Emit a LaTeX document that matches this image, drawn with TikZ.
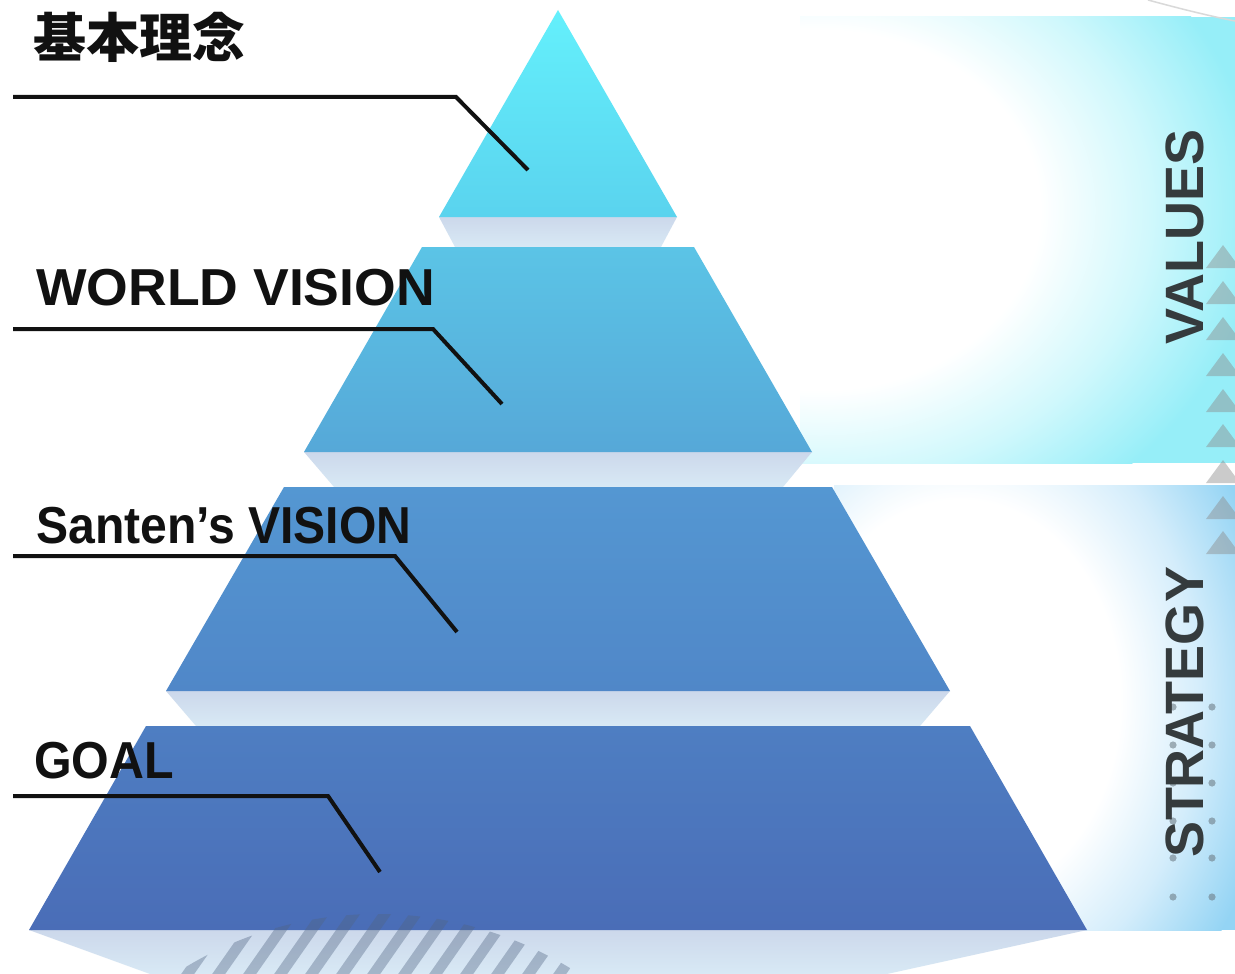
\documentclass[tikz,border=0pt]{standalone}
\usepackage{fontspec}
\setmainfont{Liberation Sans}
\newfontfamily\cjk{Noto Sans CJK JP}
\definecolor{ink}{HTML}{111111}
\definecolor{sidegray}{HTML}{353B3D}
\definecolor{valcyan}{HTML}{96EEF8}
\definecolor{valmid}{HTML}{D0F8FC}
\definecolor{strblue}{HTML}{94D4F4}
\definecolor{strmid}{HTML}{D4EDFB}
\definecolor{gaptop}{HTML}{CCD8EB}
\definecolor{gapbot}{HTML}{D8E9F5}
\definecolor{tAtop}{HTML}{64F0FC}
\definecolor{tAbot}{HTML}{5AD3EE}
\definecolor{tBtop}{HTML}{5BC4E6}
\definecolor{tBbot}{HTML}{56A8D8}
\definecolor{tCtop}{HTML}{5497D2}
\definecolor{tCbot}{HTML}{5087C8}
\definecolor{tDtop}{HTML}{4E7EC2}
\definecolor{tDbot}{HTML}{4A6DB7}
\definecolor{dotgray}{RGB}{110,125,135}
\definecolor{stripec}{RGB}{80,100,130}
% path bounding box maps to 25bp..75bp (radial: radius = 25bp)
\pgfdeclareradialshading{valsh}{\pgfpoint{0bp}{0bp}}{color(0bp)=(white); color(12.5bp)=(white); color(18.75bp)=(valmid); color(25bp)=(valcyan); color(50bp)=(valcyan)}
\pgfdeclareradialshading{strsh}{\pgfpoint{0bp}{0bp}}{color(0bp)=(white); color(12.5bp)=(white); color(18.75bp)=(strmid); color(25bp)=(strblue); color(50bp)=(strblue)}
\begin{document}
\begin{tikzpicture}[x=1pt,y=-1pt,
  leader/.style={draw=ink, line width=4pt},
  lbl/.style={anchor=base west, inner sep=0pt, text=ink, font=\fontsize{52}{60}\selectfont\bfseries},
  side/.style={rotate=90, inner sep=0pt, text=sidegray, font=\fontsize{54}{60}\selectfont\bfseries},
  tri/.style={fill=black!45, fill opacity=0.45},
  dotc/.style={fill=dotgray, fill opacity=0.6},
  gapfill/.style={top color=gaptop, bottom color=gapbot},
]
\useasboundingbox (0,0) rectangle (1235,974);
\fill[white] (0,0) rectangle (1235,974);
% right panels
\begin{scope}
  \clip (800,17) rectangle (1235,463);
  \fill[valcyan] (800,17) rectangle (1235,463);
  \shade[shading=valsh] (820,210) ellipse [x radius=440pt, y radius=360pt];
\end{scope}
\begin{scope}
  \clip (834,485) rectangle (1235,930);
  \fill[strblue] (834,485) rectangle (1235,930);
  \shade[shading=strsh] (960,700) ellipse [x radius=320pt, y radius=400pt];
\end{scope}
\draw[gray!30, line width=1.5pt] (1148,0) .. controls (1185,10) and (1210,16) .. (1235,21);
% shadow and gaps
\shade[gapfill] (29,930) -- (1087,930) -- (887,974) -- (150,974) -- cycle;
\shade[gapfill] (439,217) -- (677,217) -- (661,247) -- (455,247) -- cycle;
\shade[gapfill] (304,452) -- (812,452) -- (783,487) -- (334,487) -- cycle;
\shade[gapfill] (166,691) -- (950,691) -- (920,726) -- (196,726) -- cycle;
% tiers
\shade[top color=tAtop, bottom color=tAbot] (558,10) -- (677,217) -- (439,217) -- cycle;
\shade[top color=tBtop, bottom color=tBbot] (422,247) -- (694,247) -- (812,452) -- (304,452) -- cycle;
\shade[top color=tCtop, bottom color=tCbot] (284,487) -- (832,487) -- (950,691) -- (166,691) -- cycle;
\shade[top color=tDtop, bottom color=tDbot] (146,726) -- (970,726) -- (1087,930) -- (29,930) -- cycle;
% stripes
\begin{scope}
  \clip (377,1285) circle (371);
  \foreach \i in {0,...,17} {
    \fill[stripec, fill opacity=0.38] ({108+31*\i},990) -- ({121+31*\i},990) -- ({184+31*\i},900) -- ({171+31*\i},900) -- cycle;
  }
\end{scope}
% triangles on the right edge
\begin{scope}
  \clip (0,0) rectangle (1235,974);
  \foreach \ty in {245,281,317,353,389,424,460,496,531} {
    \fill[tri] (1223,\ty) -- (1240,{\ty+23}) -- (1206,{\ty+23}) -- cycle;
  }
\end{scope}
% dots
\foreach \dy in {707,745,783,821,858,897} {
  \fill[dotc] (1173,\dy) circle (3.6);
  \fill[dotc] (1212,\dy) circle (3.6);
}
% side texts
\node[side] (values) at (1185,237) {VALUES};
\node[side] (strategy) at (1185,712) {STRATEGY};
% labels
\node[lbl, font=\fontsize{53}{60}\selectfont\cjk\bfseries] (kihon) at (33,58) {基本理念};
\node[lbl, xscale=1.03] (world) at (36,305) {WORLD VISION};
\node[lbl, xscale=0.925] (santen) at (36,543) {Santen’s VISION};
\node[lbl, xscale=0.93] (goal) at (34,778) {GOAL};
% leader lines
\coordinate (a1) at (13,97);  \coordinate (b1) at (456,97);  \coordinate (c1) at (528,170);
\coordinate (a2) at (13,329); \coordinate (b2) at (433,329); \coordinate (c2) at (502,404);
\coordinate (a3) at (13,556); \coordinate (b3) at (395,556); \coordinate (c3) at (457,632);
\coordinate (a4) at (13,796); \coordinate (b4) at (328,796); \coordinate (c4) at (380,872);
\draw[leader] (a1) -- (b1) -- (c1);
\draw[leader] (a2) -- (b2) -- (c2);
\draw[leader] (a3) -- (b3) -- (c3);
\draw[leader] (a4) -- (b4) -- (c4);
\end{tikzpicture}
\end{document}
